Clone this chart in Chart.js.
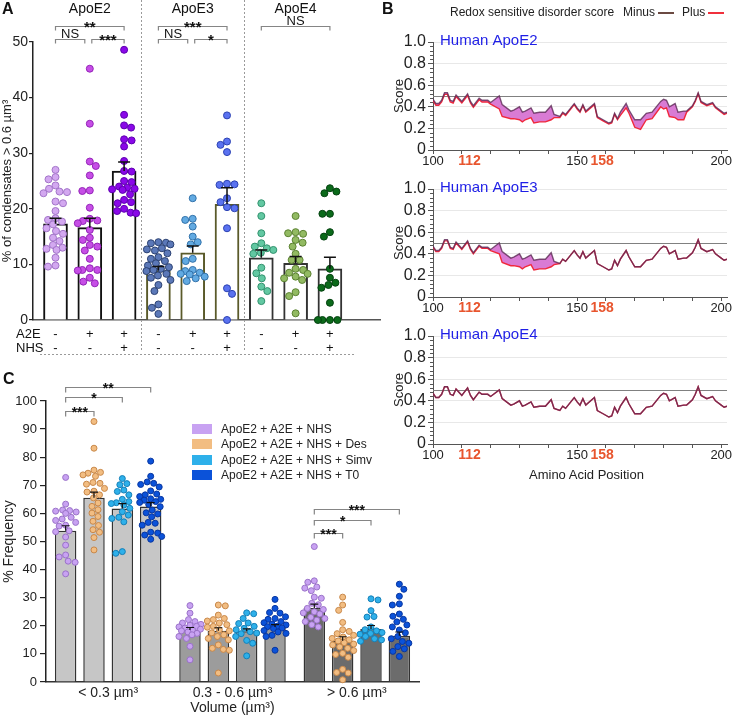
<!DOCTYPE html>
<html>
<head>
<meta charset="utf-8">
<title>ApoE condensates</title>
<script src="https://cdn.jsdelivr.net/npm/chart.js@4.4.1/dist/chart.umd.min.js"></script>
<style>
  body { margin: 0; background: #fff; }
  #page { position: relative; width: 733px; height: 718px; overflow: hidden; background: #fff;
          font-family: "Liberation Sans", Arial, sans-serif; color: #111; }
  #page canvas { position: absolute; }
  .panel { position: absolute; font-weight: bold; font-size: 16px; line-height: 16px; }
  .note { position: absolute; font-size: 12px; line-height: 16px; white-space: nowrap; color: #222; }
  .key { display: inline-block; width: 16px; height: 0; border-top: 2px solid; vertical-align: middle; margin-left: 3px; }
  #legendC { position: absolute; left: 192px; top: 422px; font-size: 12px; color: #222; }
  #legendC div { height: 15.3px; line-height: 15.3px; white-space: nowrap; }
  #legendC span { display: inline-block; width: 20px; height: 10px; margin-right: 9px; vertical-align: -1px; }
</style>
</head>
<body>
<div id="page">
  <canvas id="chartA" width="385" height="362" style="left:0;top:0"></canvas>
  <canvas id="chartE2" width="350" height="144" style="left:383px;top:30px"></canvas>
  <canvas id="chartE3" width="350" height="144" style="left:383px;top:177px"></canvas>
  <canvas id="chartE4" width="350" height="144" style="left:383px;top:324px"></canvas>
  <canvas id="chartC" width="440" height="343" style="left:0;top:375px"></canvas>
  <div class="panel" style="left:2px;top:1px">A</div>
  <div class="panel" style="left:382px;top:1px">B</div>
  <div class="panel" style="left:3px;top:371px">C</div>
  <div class="note" style="left:450px;top:4px">Redox sensitive disorder score</div>
  <div class="note" style="left:623px;top:4px">Minus<span class="key" style="border-color:#6b4a42"></span></div>
  <div class="note" style="left:682px;top:4px">Plus<span class="key" style="border-color:#f0303c"></span></div>
  <div class="note" style="left:529px;top:467px;font-size:13px">Amino Acid Position</div>
  <div id="legendC"></div>
</div>
<script>
const FONT = '"Liberation Sans", Arial, sans-serif';
Chart.defaults.font.family = FONT;
Chart.defaults.color = '#222';
Chart.defaults.animation = false;
Chart.defaults.plugins.legend.display = false;
Chart.defaults.plugins.tooltip.enabled = false;

// ---------- Panel A data ----------
const groupsA = ['ApoE2', 'ApoE3', 'ApoE4'];
const a2eRow = ['-', '+', '+', '-', '+', '+', '-', '+', '+'];
const nhsRow = ['-', '-', '+', '-', '-', '+', '-', '-', '+'];
const meanA = [17.3, 16.6, 26.8, 8.9, 12.1, 20.8, 11.2, 10.2, 9.2];
const semA = [1.0, 1.7, 1.6, 0.7, 1.2, 3.0, 1.4, 1.2, 2.1];

const e2Ctrl = [27.0, 25.7, 25.3, 24.2, 23.6, 23.1, 23.0, 22.8, 21.3, 21.0, 19.6, 18.3, 18.0, 17.7, 17.2, 16.5, 16.0, 15.5, 14.8, 14.2, 13.5, 13.0, 12.8, 12.6, 11.2, 9.8, 9.6];
const e2A2E = [45.2, 35.3, 28.5, 27.7, 26.0, 23.3, 23.2, 20.2, 18.2, 17.9, 17.8, 17.4, 16.2, 14.8, 14.4, 13.5, 13.2, 12.5, 11.0, 9.3, 9.0, 9.0, 8.9, 7.6, 6.9, 6.6];
const e2A2ENhs = [48.6, 36.9, 35.0, 34.6, 32.5, 32.3, 31.2, 28.6, 26.8, 26.7, 25.0, 24.8, 24.0, 23.8, 23.6, 23.5, 23.4, 22.6, 21.6, 21.2, 21.0, 20.0, 19.6, 19.3, 19.2];
const e3Ctrl = [14.0, 13.9, 13.8, 13.6, 12.9, 12.7, 12.5, 12.0, 11.3, 11.0, 10.6, 10.2, 9.8, 9.5, 9.2, 9.0, 8.8, 8.3, 8.0, 7.6, 7.2, 6.3, 5.2, 2.8, 2.2, 1.1];
const e3A2E = [21.9, 18.2, 18.0, 16.8, 15.0, 14.0, 13.6, 11.0, 10.6, 9.0, 8.8, 8.5, 8.3, 8.2, 7.8, 7.5, 7.0];
const e3A2ENhs = [36.8, 32.1, 31.5, 30.2, 24.5, 24.4, 24.3, 21.9, 21.2, 20.3, 20.1, 16.5, 5.7, 4.7, 0];
const e4Ctrl = [21.0, 18.7, 15.6, 13.8, 13.2, 12.9, 12.6, 12.1, 11.9, 9.4, 8.4, 7.5, 6.0, 5.2, 3.4];
const e4A2E = [18.7, 15.8, 15.6, 15.5, 14.4, 13.9, 13.2, 11.9, 10.8, 10.8, 9.2, 9.0, 8.5, 8.3, 7.8, 7.5, 7.2, 5.0, 4.3, 1.2];
const e4A2ENhs = [23.7, 23.1, 22.8, 19.1, 19.1, 15.8, 15.0, 9.2, 7.6, 6.7, 6.3, 5.8, 3.1, 0, 0, 0, 0];
const dotsA = [e2Ctrl, e2A2E, e2A2ENhs, e3Ctrl, e3A2E, e3A2ENhs, e4Ctrl, e4A2E, e4A2ENhs];

const dotFillA = ['#d3a8f0', '#c64ee6', '#8a08e8', '#5b78b8', '#62aae2', '#5a72f0', '#62c8a2', '#92ba62', '#0b6a1a'];
const dotLineA = ['#a274c8', '#9424b8', '#5e00b0', '#2c4272', '#3272aa', '#2c42b2', '#32926e', '#5c8232', '#044210'];
const barLineA = ['#111', '#111', '#111', '#5a5a2a', '#5a5a2a', '#5a5a2a', '#333', '#333', '#333'];

// significance brackets, level in axis units
const bracketsA = [
  {a: 0, b: 2, level: 52.9, label: '**'},
  {a: 0, b: 1, level: 50.5, label: 'NS', trimEnd: 5},
  {a: 1, b: 2, level: 50.5, label: '***', trimStart: 2},
  {a: 3, b: 5, level: 52.9, label: '***'},
  {a: 3, b: 4, level: 50.5, label: 'NS', trimEnd: 5},
  {a: 4, b: 5, level: 50.5, label: '*', trimStart: 2},
  {a: 6, b: 8, level: 52.9, label: 'NS'}
];

// ---------- Panel B data ----------
const residues = [100, 101, 102, 103, 104, 105, 106, 107, 108, 109, 110,
  112, 113, 114, 116, 117, 119, 120,
  123, 124, 127, 128, 130, 131, 132, 134, 135, 137, 139,
  141, 142, 144, 145, 146, 149, 150, 151, 152, 153,
  156, 157, 159, 161, 162, 163, 164, 165, 167, 168,
  170, 172, 174, 176, 179, 180, 181, 182, 184, 185,
  187, 188, 190, 191, 192, 193, 195, 197, 198, 200,
  201, 202];
const minusScore = [0.47, 0.43, 0.43, 0.46, 0.53, 0.53, 0.46, 0.45, 0.51, 0.48, 0.45,
  0.52, 0.45, 0.41, 0.48, 0.46, 0.46, 0.44,
  0.50, 0.42, 0.36, 0.37, 0.40, 0.35, 0.36, 0.39, 0.34, 0.35, 0.35,
  0.41, 0.33, 0.31, 0.35, 0.33, 0.43, 0.39, 0.36, 0.42, 0.36,
  0.43, 0.31, 0.28, 0.25, 0.26, 0.34, 0.29, 0.35, 0.43, 0.37,
  0.28, 0.28, 0.34, 0.35, 0.45, 0.47, 0.46, 0.40, 0.43, 0.35,
  0.36, 0.36, 0.41, 0.46, 0.53, 0.45, 0.42, 0.44, 0.40, 0.36,
  0.34, 0.35];
const plusE2 = [0.455, 0.415, 0.415, 0.445, 0.515, 0.515, 0.445, 0.435, 0.495, 0.465, 0.435,
  0.505, 0.435, 0.395, 0.465, 0.445, 0.445, 0.425,
  0.38, 0.31, 0.29, 0.29, 0.28, 0.26, 0.28, 0.30, 0.25, 0.26, 0.26,
  0.28, 0.30, 0.30, 0.34, 0.32, 0.42, 0.38, 0.35, 0.41, 0.35,
  0.42, 0.30, 0.27, 0.24, 0.25, 0.33, 0.28, 0.32, 0.39, 0.34,
  0.21, 0.19, 0.28, 0.29, 0.40, 0.38, 0.39, 0.31, 0.30, 0.28,
  0.28, 0.35, 0.40, 0.45, 0.52, 0.44, 0.41, 0.43, 0.39, 0.35,
  0.33, 0.34];
const plusE3 = [0.46, 0.42, 0.42, 0.45, 0.52, 0.52, 0.45, 0.44, 0.50, 0.47, 0.44,
  0.51, 0.44, 0.40, 0.47, 0.45, 0.45, 0.43,
  0.40, 0.32, 0.29, 0.29, 0.28, 0.26, 0.28, 0.30, 0.25, 0.26, 0.26,
  0.28, 0.30, 0.31, 0.35, 0.33, 0.43, 0.39, 0.36, 0.42, 0.36,
  0.43, 0.31, 0.28, 0.25, 0.26, 0.34, 0.29, 0.35, 0.43, 0.37,
  0.28, 0.28, 0.34, 0.35, 0.45, 0.47, 0.46, 0.40, 0.43, 0.35,
  0.36, 0.36, 0.41, 0.46, 0.53, 0.45, 0.42, 0.44, 0.40, 0.36,
  0.34, 0.35];
const plusE4 = [0.47, 0.43, 0.43, 0.46, 0.53, 0.53, 0.46, 0.45, 0.51, 0.48, 0.45,
  0.52, 0.45, 0.41, 0.48, 0.46, 0.46, 0.44,
  0.50, 0.42, 0.36, 0.37, 0.40, 0.35, 0.36, 0.39, 0.34, 0.35, 0.35,
  0.41, 0.33, 0.31, 0.35, 0.33, 0.43, 0.39, 0.36, 0.42, 0.36,
  0.43, 0.31, 0.28, 0.25, 0.26, 0.34, 0.29, 0.35, 0.43, 0.37,
  0.28, 0.28, 0.34, 0.35, 0.45, 0.47, 0.46, 0.40, 0.43, 0.35,
  0.36, 0.36, 0.41, 0.46, 0.53, 0.45, 0.42, 0.44, 0.40, 0.36,
  0.34, 0.35];
const markedResidues = [112, 158];

// ---------- Panel C data ----------
const volumeBins = ['< 0.3 µm³', '0.3 - 0.6 µm³', '> 0.6 µm³'];
const treatments = ['ApoE2 + A2E + NHS', 'ApoE2 + A2E + NHS + Des', 'ApoE2 + A2E + NHS + Simv', 'ApoE2 + A2E + NHS + T0'];
const meanNhs = [53.8, 18.5, 26.3];
const meanDes = [65.6, 18.2, 14.7];
const meanSimv = [61.7, 18.1, 18.9];
const meanT0 = [62.5, 19.6, 16.5];
const semNhs = [1.8, 0.9, 1.4];
const semDes = [2.0, 1.1, 1.4];
const semSimv = [1.8, 0.8, 1.2];
const semT0 = [1.3, 0.8, 1.3];

const nhsLt03 = [72.8, 63.3, 61.2, 61.0, 60.8, 60.5, 60.0, 58.6, 58.0, 57.5, 56.8, 55.8, 55.5, 53.8, 53.5, 51.6, 48.7, 45.2, 44.5, 43.0, 42.6, 38.5];
const desLt03 = [92.7, 83.2, 75.4, 74.6, 74.3, 73.7, 73.2, 71.0, 70.7, 70.4, 68.9, 67.9, 67.6, 66.6, 65.5, 63.7, 62.5, 61.3, 60.1, 58.9, 57.2, 55.7, 54.2, 53.3, 51.4, 47.0];
const simvLt03 = [72.4, 70.6, 70.2, 68.3, 67.8, 66.6, 65.0, 64.2, 63.8, 63.5, 63.0, 61.8, 60.6, 59.4, 58.6, 58.2, 57.0, 46.4, 45.8];
const t0Lt03 = [78.6, 73.2, 71.2, 70.7, 70.3, 69.4, 68.0, 66.9, 66.6, 66.0, 65.2, 65.0, 64.7, 64.2, 63.9, 63.2, 62.4, 61.2, 60.2, 59.8, 58.8, 56.8, 56.5, 55.8, 53.3, 53.0, 52.3, 51.8, 50.8];
const nhsMid = [27.2, 24.5, 22.2, 21.5, 21.0, 20.5, 20.2, 19.8, 19.6, 19.2, 18.8, 18.5, 18.2, 17.8, 17.3, 16.8, 16.2, 15.5, 12.7, 7.9];
const desMid = [27.4, 27.1, 23.8, 22.6, 22.2, 21.7, 21.0, 20.4, 19.8, 19.5, 18.6, 18.2, 17.5, 16.8, 16.2, 15.5, 15.0, 13.2, 12.0, 11.6, 11.3, 3.2];
const simvMid = [24.6, 24.3, 22.6, 21.0, 20.8, 19.8, 19.1, 18.6, 17.9, 17.4, 17.2, 16.2, 14.8, 13.8, 9.3];
const t0Mid = [29.4, 26.2, 24.7, 24.5, 23.2, 22.6, 22.3, 21.5, 21.1, 20.6, 20.3, 19.9, 19.7, 19.2, 19.0, 18.3, 17.8, 17.3, 16.6, 16.2, 11.3];
const nhsGt06 = [48.2, 36.0, 35.5, 33.8, 33.4, 32.5, 30.2, 29.8, 28.0, 27.5, 26.2, 25.8, 25.0, 24.6, 24.2, 23.0, 22.6, 22.0, 21.5, 20.4, 19.6];
const desGt06 = [30.2, 27.4, 25.5, 21.2, 18.6, 18.0, 17.2, 16.6, 16.0, 15.5, 15.0, 14.6, 14.0, 13.5, 13.2, 12.5, 12.0, 11.2, 10.2, 9.8, 8.8, 4.5, 3.4, 3.2, 0.8];
const simvGt06 = [29.6, 29.2, 25.4, 23.3, 23.1, 19.6, 18.6, 18.2, 17.6, 17.3, 17.0, 16.2, 15.4, 15.0, 14.5];
const t0Gt06 = [34.8, 33.0, 30.5, 27.8, 27.4, 24.2, 23.4, 22.3, 21.4, 20.3, 19.6, 18.5, 17.5, 16.2, 15.4, 14.4, 13.8, 12.6, 11.8, 10.9, 9.1];

const meansC = [meanNhs, meanDes, meanSimv, meanT0];
const semsC = [semNhs, semDes, semSimv, semT0];
const dotsC = [[nhsLt03, nhsMid, nhsGt06], [desLt03, desMid, desGt06], [simvLt03, simvMid, simvGt06], [t0Lt03, t0Mid, t0Gt06]];
const fillC = ['#c8a2f2', '#f2bd82', '#2eb0ea', '#0b52d9'];
const lineC = ['#9a72c8', '#c8884a', '#1580b8', '#0836a0'];
const binFillC = ['#c6c6c6', '#9c9c9c', '#6c6c6c'];

const bracketsC = [
  {bin: 0, a: 0, b: 1, level: 96.4, label: '***'},
  {bin: 0, a: 0, b: 2, level: 101.4, label: '*'},
  {bin: 0, a: 0, b: 3, level: 105.0, label: '**'},
  {bin: 2, a: 0, b: 1, level: 53.0, label: '***'},
  {bin: 2, a: 0, b: 2, level: 57.7, label: '*'},
  {bin: 2, a: 0, b: 3, level: 61.6, label: '***'}
];

// ---------- helpers ----------
// simple beeswarm: horizontal pixel offsets so dots do not pile up
function swarm(values, yScale, radius, maxOff) {
  const py = values.map(v => yScale.getPixelForValue(v));
  const order = py.map((_, i) => i).sort((a, b) => py[a] - py[b]);
  const placed = [];
  const offs = new Array(values.length).fill(0);
  order.forEach((i, n) => {
    let best = 0, bestGap = -1;
    search:
    for (let d = 0; d <= maxOff; d += 0.5) {
      const cands = d === 0 ? [0] : (n % 2 ? [d, -d] : [-d, d]);
      for (const c of cands) {
        let gap = Infinity;
        placed.forEach(p => { gap = Math.min(gap, Math.hypot(c - p.x, py[i] - p.y)); });
        if (gap > bestGap) { bestGap = gap; best = c; }
        if (gap >= 2 * radius) break search;
      }
    }
    offs[i] = best;
    placed.push({x: best, y: py[i]});
  });
  return offs;
}

function drawBracket(ctx, x1, x2, yPx, label, drop, starFont) {
  ctx.strokeStyle = '#858585';
  ctx.lineWidth = 1.2;
  ctx.beginPath();
  ctx.moveTo(x1, yPx + drop);
  ctx.lineTo(x1, yPx);
  ctx.lineTo(x2, yPx);
  ctx.lineTo(x2, yPx + drop);
  ctx.stroke();
  ctx.fillStyle = '#111';
  ctx.textAlign = 'center';
  ctx.textBaseline = 'alphabetic';
  if (label === 'NS') {
    ctx.font = '13px ' + FONT;
    ctx.fillText(label, (x1 + x2) / 2, yPx - 2);
  } else {
    ctx.font = starFont;
    ctx.fillText(label, (x1 + x2) / 2, yPx + 5);
  }
}

// ---------- Panel A ----------
const panelAPlugin = {
  id: 'panelA',
  afterDatasetsDraw(chart) {
    const {ctx, scales: {x, y}} = chart;
    ctx.save();
    ctx.strokeStyle = '#111';
    ctx.lineWidth = 1.5;
    meanA.forEach((m, i) => {
      const cx = x.getPixelForValue(i + 1);
      const y0 = y.getPixelForValue(m);
      const y1 = y.getPixelForValue(m + semA[i]);
      ctx.beginPath();
      ctx.moveTo(cx, y0); ctx.lineTo(cx, y1);
      ctx.moveTo(cx - 6, y1); ctx.lineTo(cx + 6, y1);
      ctx.stroke();
    });
    ctx.restore();
  },
  afterDraw(chart) {
    const {ctx, scales: {x, y}} = chart;
    ctx.save();
    // dotted separators
    ctx.setLineDash([2, 2]);
    ctx.strokeStyle = '#9a9a9a';
    ctx.lineWidth = 1;
    [3.5, 6.5].forEach(p => {
      const px = Math.round(x.getPixelForValue(p)) + 0.5;
      ctx.beginPath(); ctx.moveTo(px, 0); ctx.lineTo(px, 352); ctx.stroke();
    });
    ctx.beginPath(); ctx.moveTo(40, 354.5); ctx.lineTo(354, 354.5); ctx.stroke();
    ctx.setLineDash([]);

    // group titles
    ctx.fillStyle = '#111';
    ctx.font = '14px ' + FONT;
    ctx.textAlign = 'center';
    ctx.textBaseline = 'middle';
    groupsA.forEach((g, k) => ctx.fillText(g, x.getPixelForValue(3 * k + 2), 9));

    // brackets
    bracketsA.forEach(br => {
      const x1 = x.getPixelForValue(br.a + 1) + (br.trimStart || 0);
      const x2 = x.getPixelForValue(br.b + 1) - (br.trimEnd || 0);
      drawBracket(ctx, x1, x2, Math.round(y.getPixelForValue(br.level)) + 0.5, br.label, 4, 'bold 15px ' + FONT);
    });

    // treatment rows
    ctx.fillStyle = '#111';
    ctx.font = '13px ' + FONT;
    ctx.textBaseline = 'middle';
    ctx.textAlign = 'left';
    ctx.fillText('A2E', 16, 334);
    ctx.fillText('NHS', 16, 348);
    ctx.textAlign = 'center';
    a2eRow.forEach((s, i) => ctx.fillText(s, x.getPixelForValue(i + 1), 334));
    nhsRow.forEach((s, i) => ctx.fillText(s, x.getPixelForValue(i + 1), 348));
    ctx.restore();
  }
};

const chartA = new Chart(document.getElementById('chartA'), {
  type: 'bar',
  data: {
    datasets: [
      ...dotsA.map((vals, i) => ({
        type: 'scatter',
        data: vals.map(v => ({x: i + 1, y: v})),
        backgroundColor: dotFillA[i],
        borderColor: dotLineA[i],
        borderWidth: 1,
        pointRadius: 3.5,
        clip: false,
        order: 1
      })),
      {
        type: 'bar',
        data: meanA.map((m, i) => ({x: i + 1, y: m})),
        backgroundColor: '#fff',
        borderColor: barLineA,
        borderWidth: 2,
        barThickness: 24,
        order: 2
      }
    ]
  },
  options: {
    responsive: false,
    layout: {autoPadding: false, padding: {top: 42, right: 5, left: 0, bottom: 0}},
    scales: {
      x: {
        type: 'linear', min: 0.344, max: 10.46, offset: false,
        ticks: {display: false, stepSize: 1},
        grid: {display: false},
        border: {display: true, color: '#555', width: 1.5},
        afterFit(s) { s.height = 42; s.paddingLeft = 0; s.paddingRight = 0; }
      },
      y: {
        min: 0, max: 50,
        ticks: {stepSize: 10, font: {size: 14}, color: '#222', padding: 1},
        grid: {drawOnChartArea: false, tickLength: 4, color: '#222', lineWidth: 1.2},
        border: {color: '#222', width: 1.5},
        title: {display: true, text: '% of condensates > 0.6 µm³', font: {size: 13}, color: '#222', padding: {top: 0, bottom: 0}},
        afterFit(s) { s.width = 33; s.paddingTop = 0; s.paddingBottom = 0; }
      }
    }
  },
  plugins: [panelAPlugin]
});

(function placeDotsA() {
  const xs = chartA.scales.x, ys = chartA.scales.y;
  dotsA.forEach((vals, i) => {
    const cx = xs.getPixelForValue(i + 1);
    const offs = swarm(vals, ys, 3.6, 12);
    chartA.data.datasets[i].data = vals.map((v, k) => ({x: xs.getValueForPixel(cx + offs[k]), y: v}));
  });
  chartA.update('none');
})();

// ---------- Panel B ----------
const scorePlugin = {
  id: 'scoreDecor',
  beforeDatasetsDraw(chart) {
    const {ctx, chartArea: area, scales: {y}} = chart;
    const py = Math.round(y.getPixelForValue(0.5)) + 0.5;
    ctx.save();
    ctx.strokeStyle = '#808080';
    ctx.lineWidth = 1.2;
    ctx.beginPath(); ctx.moveTo(area.left, py); ctx.lineTo(area.right, py); ctx.stroke();
    ctx.restore();
  },
  afterDraw(chart, args, opts) {
    const {ctx, chartArea: area, scales: {x, y}} = chart;
    ctx.save();
    ctx.strokeStyle = '#555';
    ctx.lineWidth = 1;
    ctx.beginPath();
    for (let k = 1; k < 25; k++) {
      if (k % 5 === 0) continue;
      const py = Math.round(y.getPixelForValue(k * 0.04)) + 0.5;
      ctx.moveTo(area.left - 3, py); ctx.lineTo(area.left, py);
    }
    ctx.stroke();
    ctx.fillStyle = '#1e1ee6';
    ctx.font = '15px ' + FONT;
    ctx.textAlign = 'left';
    ctx.textBaseline = 'middle';
    ctx.fillText(opts.name, area.left + 7, area.top - 1);
    ctx.fillStyle = '#e8552e';
    ctx.font = 'bold 14px ' + FONT;
    ctx.textAlign = 'center';
    markedResidues.forEach(r => ctx.fillText(String(r), x.getPixelForValue(r) + 2, area.bottom + 11));
    ctx.restore();
  }
};

function makeScoreChart(id, name, plusVals) {
  return new Chart(document.getElementById(id), {
    type: 'line',
    data: {
      datasets: [
        {
          label: 'Minus',
          data: residues.map((r, i) => ({x: r, y: minusScore[i]})),
          borderColor: 'rgba(92, 42, 85, 0.8)',
          borderWidth: 1.4,
          pointRadius: 0,
          fill: {target: 1, above: 'rgba(210, 100, 205, 0.85)', below: 'rgba(0, 0, 0, 0)'}
        },
        {
          label: 'Plus',
          data: residues.map((r, i) => ({x: r, y: plusVals[i]})),
          borderColor: '#f0283c',
          borderWidth: 1.4,
          pointRadius: 0,
          fill: false
        }
      ]
    },
    options: {
      responsive: false,
      layout: {autoPadding: false, padding: {top: 12, right: 6, left: 0, bottom: 0}},
      plugins: {filler: {drawTime: 'beforeDatasetsDraw'}, scoreDecor: {name: name}},
      scales: {
        x: {
          type: 'linear', min: 100, max: 202,
          ticks: {stepSize: 10, includeBounds: false, autoSkip: false, maxRotation: 0, font: {size: 13}, color: '#222', padding: 0,
                  callback: v => (v % 50 === 0 ? v : '')},
          grid: {drawOnChartArea: false, tickLength: 4, color: '#555'},
          border: {color: '#555', width: 1},
          afterFit(s) { s.height = 24; s.paddingLeft = 0; s.paddingRight = 0; }
        },
        y: {
          min: 0, max: 1,
          ticks: {stepSize: 0.2, autoSkip: false, font: {size: 16}, color: '#222', padding: 2,
                  callback: v => (v === 0 ? '0' : v.toFixed(1))},
          grid: {color: '#e8e8e8', tickLength: 5, tickColor: '#555'},
          border: {color: '#555', width: 1},
          title: {display: true, text: 'Score', font: {size: 13}, color: '#222', padding: {top: 9, bottom: 0}},
          afterFit(s) { s.width = 50; s.paddingTop = 0; s.paddingBottom = 0; }
        }
      }
    },
    plugins: [scorePlugin]
  });
}

makeScoreChart('chartE2', 'Human ApoE2', plusE2);
makeScoreChart('chartE3', 'Human ApoE3', plusE3);
makeScoreChart('chartE4', 'Human ApoE4', plusE4);

// ---------- Panel C ----------
const BAR_START_C = treatments.length;
const BAR_STEP_C = 0.228;   // spacing of the four bars inside one volume bin, in axis units

const panelCPlugin = {
  id: 'panelC',
  afterDatasetsDraw(chart) {
    const {ctx, scales: {y}} = chart;
    ctx.save();
    ctx.strokeStyle = '#111';
    ctx.lineWidth = 1.2;
    meansC.forEach((means, k) => {
      const meta = chart.getDatasetMeta(BAR_START_C + k);
      means.forEach((m, b) => {
        const cx = meta.data[b].x;
        const y0 = y.getPixelForValue(m);
        const y1 = y.getPixelForValue(m + semsC[k][b]);
        ctx.beginPath();
        ctx.moveTo(cx, y0); ctx.lineTo(cx, y1);
        ctx.moveTo(cx - 4, y1); ctx.lineTo(cx + 4, y1);
        ctx.stroke();
      });
    });
    ctx.restore();
  },
  afterDraw(chart) {
    const {ctx, scales: {y}} = chart;
    ctx.save();
    bracketsC.forEach(br => {
      const x1 = chart.getDatasetMeta(BAR_START_C + br.a).data[br.bin].x;
      const x2 = chart.getDatasetMeta(BAR_START_C + br.b).data[br.bin].x;
      drawBracket(ctx, x1, x2, Math.round(y.getPixelForValue(br.level)) + 0.5, br.label, 5, 'bold 14px ' + FONT);
    });
    ctx.restore();
  }
};

const chartC = new Chart(document.getElementById('chartC'), {
  type: 'bar',
  data: {
    datasets: [
      ...treatments.map((t, k) => ({
        type: 'scatter',
        label: t,
        data: [],
        backgroundColor: fillC[k],
        borderColor: lineC[k],
        borderWidth: 1,
        pointRadius: 3,
        clip: false,
        order: 1
      })),
      ...treatments.map((t, k) => ({
        type: 'bar',
        label: t,
        data: meansC[k].map((m, b) => ({x: b + (k - 1.5) * BAR_STEP_C, y: m})),
        backgroundColor: binFillC,
        borderColor: '#333',
        borderWidth: 1.5,
        grouped: false,
        categoryPercentage: 1,
        barPercentage: 0.757,
        order: 2
      }))
    ]
  },
  options: {
    responsive: false,
    layout: {autoPadding: false, padding: {top: 26, right: 21, left: 0, bottom: 0}},
    scales: {
      x: {
        type: 'linear', min: -0.5, max: 2.5, offset: false,
        ticks: {stepSize: 0.5, autoSkip: false, maxRotation: 0, font: {size: 14}, color: '#222', padding: 3,
                callback: v => (Number.isInteger(v) ? volumeBins[v] : '')},
        grid: {display: false, drawTicks: false},
        border: {color: '#333', width: 1.5},
        title: {display: true, text: 'Volume (µm³)', font: {size: 14}, color: '#222', padding: {top: 0, bottom: 1}},
        afterFit(s) { s.height = 36; s.paddingLeft = 0; s.paddingRight = 0; }
      },
      y: {
        min: 0, max: 100,
        ticks: {stepSize: 10, font: {size: 13}, color: '#222', padding: 3},
        grid: {drawOnChartArea: false, tickLength: 6, color: '#222', lineWidth: 1.2},
        border: {color: '#222', width: 1.5},
        title: {display: true, text: '% Frequency', font: {size: 14}, color: '#222', padding: {top: 1, bottom: 0}},
        afterFit(s) { s.width = 46; s.paddingTop = 0; s.paddingBottom = 0; }
      }
    }
  },
  plugins: [panelCPlugin]
});

(function placeDotsC() {
  const xs = chartC.scales.x, ys = chartC.scales.y;
  dotsC.forEach((bins, k) => {
    const meta = chartC.getDatasetMeta(BAR_START_C + k);
    const pts = [];
    bins.forEach((vals, b) => {
      const cx = meta.data[b].x;
      const offs = swarm(vals, ys, 3.3, 11);
      vals.forEach((v, n) => pts.push({x: xs.getValueForPixel(cx + offs[n]), y: v}));
    });
    chartC.data.datasets[k].data = pts;
  });
  chartC.update('none');
})();

// legend for panel C
const legendC = document.getElementById('legendC');
treatments.forEach((t, k) => {
  const row = document.createElement('div');
  const sw = document.createElement('span');
  sw.style.background = fillC[k];
  row.appendChild(sw);
  row.appendChild(document.createTextNode(t));
  legendC.appendChild(row);
});
</script>
</body>
</html>
